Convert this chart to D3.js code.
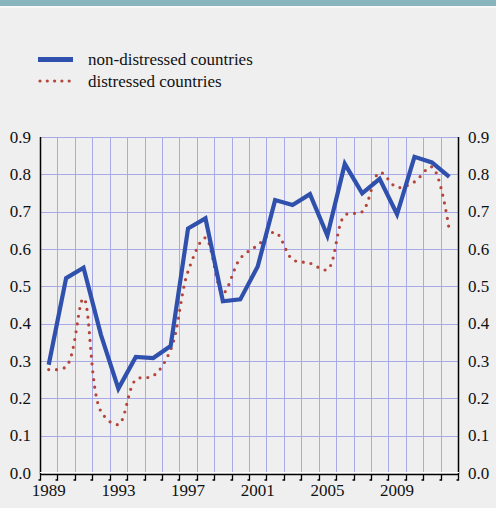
<!DOCTYPE html>
<html>
<head>
<script src="https://cdn.jsdelivr.net/npm/d3@7"></script>
</head>
<body style="margin:0;background:#efefef">
<script>
var years = d3.range(1989, 2013);
var nonDistressed = [0.29, 0.522, 0.55, 0.37, 0.226, 0.311, 0.308, 0.34, 0.655, 0.682, 0.46, 0.465,
                     0.553, 0.731, 0.718, 0.747, 0.636, 0.828, 0.749, 0.788, 0.693, 0.847, 0.832, 0.793];
var distressed = [0.277, 0.285, 0.468, 0.165, 0.13, 0.25, 0.26, 0.33, 0.54, 0.63, 0.482, 0.575,
                  0.61, 0.645, 0.572, 0.562, 0.545, 0.69, 0.7, 0.805, 0.765, 0.78, 0.82, 0.65];
var yTicks = [0, 0.1, 0.2, 0.3, 0.4, 0.5, 0.6, 0.7, 0.8, 0.9];
var xLabels = [1989, 1993, 1997, 2001, 2005, 2009];
var legendNames = ["non-distressed countries", "distressed countries"];

var FONT = "'Liberation Serif'";
// text is set at 20px and scaled down, small sizes of this font render badly here
var FS = 20, K = 0.85;
var W = 496, H = 508;
var svg = d3.select("body").append("svg").attr("width", W).attr("height", H)
  .style("display", "block");

function label(sel) {
  return sel.attr("font-size", FS).attr("fill", "#111").attr("font-family", FONT);
}

svg.append("rect").attr("width", W).attr("height", H).attr("fill", "#efefef");
// top bar
svg.append("rect").attr("x", 0).attr("y", 0).attr("width", W).attr("height", 6).attr("fill", "#88b4bd");
svg.append("rect").attr("x", 0).attr("y", 6).attr("width", W).attr("height", 2).attr("fill", "#f8f8f8");

var x = d3.scaleBand().domain(years).range([40, 458]);
var y = d3.scaleLinear().domain([0, 0.9]).range([473, 137]);
var cx = function(d) { return x(d) + x.bandwidth() / 2; };

// grid
var grid = svg.append("g").attr("stroke", "#a7aae6").attr("stroke-width", 1);
grid.selectAll("line.h").data(yTicks.slice(1)).enter().append("line")
  .attr("x1", 40).attr("x2", 458)
  .attr("y1", function(d) { return Math.round(y(d)) + 0.5; })
  .attr("y2", function(d) { return Math.round(y(d)) + 0.5; });
grid.selectAll("line.v").data(years.slice(1)).enter().append("line")
  .attr("x1", function(d) { return Math.round(x(d)) + 0.5; })
  .attr("x2", function(d) { return Math.round(x(d)) + 0.5; })
  .attr("y1", y(0.9)).attr("y2", y(0));

// axes lines
svg.append("line").attr("x1", 40.5).attr("x2", 40.5).attr("y1", y(0.9)).attr("y2", 474)
  .attr("stroke", "#000").attr("stroke-width", 1.5);
svg.append("line").attr("x1", 458.5).attr("x2", 458.5).attr("y1", y(0.9)).attr("y2", 474)
  .attr("stroke", "#000").attr("stroke-width", 1.5);
svg.append("line").attr("x1", 40).attr("x2", 459).attr("y1", 472.5).attr("y2", 472.5)
  .attr("stroke", "#fff").attr("stroke-width", 1);
svg.append("line").attr("x1", 40).attr("x2", 459).attr("y1", 474.5).attr("y2", 474.5)
  .attr("stroke", "#000").attr("stroke-width", 1.5);

// bottom ticks
var edges = years.map(function(d) { return x(d); }).concat([x.range()[1]]);
var ticks = svg.append("g").attr("stroke", "#000").attr("stroke-width", 1.3).attr("fill", "none");
ticks.selectAll("path").data(edges).enter().append("path")
  .attr("d", function(d) { var xx = Math.round(d) + 0.5; return "M" + xx + ",474V480H" + (xx - 2); });

// y labels
label(svg.append("g").selectAll("text").data(yTicks).enter().append("text"))
  .attr("transform", function(d) { return "translate(31," + y(d) + ") scale(" + K + ")"; })
  .attr("dy", "0.33em").attr("text-anchor", "end")
  .text(function(d) { return d.toFixed(1); });
label(svg.append("g").selectAll("text").data(yTicks).enter().append("text"))
  .attr("transform", function(d) { return "translate(468," + y(d) + ") scale(" + K + ")"; })
  .attr("dy", "0.33em").attr("text-anchor", "start")
  .text(function(d) { return d.toFixed(1); });

// x labels
label(svg.append("g").selectAll("text").data(xLabels).enter().append("text"))
  .attr("transform", function(d) { return "translate(" + cx(d) + ",496) scale(" + K + ")"; })
  .attr("text-anchor", "middle")
  .text(function(d) { return d; });

// series
var blueLine = d3.line().x(function(d, i) { return cx(years[i]); }).y(function(d) { return y(d); });
var redLine = d3.line().x(function(d, i) { return cx(years[i]); }).y(function(d) { return y(d); })
  .curve(d3.curveCatmullRom.alpha(0.5));

svg.append("path").datum(distressed).attr("d", redLine)
  .attr("fill", "none").attr("stroke", "#b5443a").attr("stroke-width", 3.2)
  .attr("stroke-linecap", "round").attr("stroke-dasharray", "0 7.8");
svg.append("path").datum(nonDistressed).attr("d", blueLine)
  .attr("fill", "none").attr("stroke", "#2f50ac").attr("stroke-width", 4.2)
  .attr("stroke-linejoin", "miter");

// legend
var leg = svg.append("g");
leg.append("line").attr("x1", 38).attr("x2", 73).attr("y1", 59.5).attr("y2", 59.5)
  .attr("stroke", "#2f50ac").attr("stroke-width", 5);
leg.append("line").attr("x1", 40).attr("x2", 73).attr("y1", 81).attr("y2", 81)
  .attr("stroke", "#b5443a").attr("stroke-width", 3.2)
  .attr("stroke-linecap", "round").attr("stroke-dasharray", "0 7.3");
label(leg.selectAll("text").data(legendNames).enter().append("text"))
  .attr("transform", function(d, i) { return "translate(88," + (65 + i * 21.5) + ") scale(" + K + ")"; })
  .text(function(d) { return d; });
</script>
</body>
</html>
